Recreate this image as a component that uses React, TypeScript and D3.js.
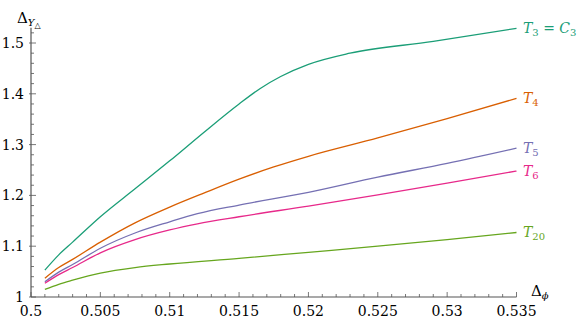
import React from "react";
import * as d3 from "d3";

// x positions of the sampled points (Δφ)
const xsT3 = [0.501, 0.502, 0.503, 0.505, 0.5075, 0.51, 0.5125, 0.515, 0.5165, 0.518, 0.52, 0.523, 0.529, 0.535];
const ysT3 = [1.053, 1.083, 1.108, 1.158, 1.213, 1.268, 1.325, 1.38, 1.41, 1.434, 1.458, 1.48, 1.503, 1.529];

const xsT4 = [0.501, 0.502, 0.503, 0.505, 0.5075, 0.51, 0.5125, 0.515, 0.5175, 0.52, 0.525, 0.53, 0.535];
const ysT4 = [1.037, 1.058, 1.074, 1.108, 1.146, 1.177, 1.205, 1.232, 1.256, 1.277, 1.313, 1.351, 1.391];

const xsT5 = [0.501, 0.502, 0.503, 0.505, 0.5075, 0.51, 0.512, 0.515, 0.52, 0.525, 0.53, 0.535];
const ysT5 = [1.03, 1.049, 1.064, 1.096, 1.126, 1.148, 1.164, 1.181, 1.206, 1.236, 1.263, 1.293];

const xsT6 = [0.501, 0.502, 0.503, 0.505, 0.5075, 0.51, 0.512, 0.515, 0.52, 0.525, 0.53, 0.535];
const ysT6 = [1.027, 1.044, 1.058, 1.087, 1.113, 1.132, 1.144, 1.158, 1.179, 1.201, 1.224, 1.248];

const xsT20 = [0.501, 0.502, 0.503, 0.505, 0.5075, 0.51, 0.515, 0.52, 0.525, 0.53, 0.535];
const ysT20 = [1.015, 1.025, 1.033, 1.047, 1.058, 1.065, 1.076, 1.088, 1.1, 1.113, 1.127];

const xTickLabels = ["0.5", "0.505", "0.51", "0.515", "0.52", "0.525", "0.53", "0.535"];
const yTickLabels = ["1", "1.1", "1.2", "1.3", "1.4", "1.5"];

const series = [
  { name: "T3", sub: "3", extra: true, color: "#1b9e77", xs: xsT3, ys: ysT3 },
  { name: "T4", sub: "4", extra: false, color: "#d95f02", xs: xsT4, ys: ysT4 },
  { name: "T5", sub: "5", extra: false, color: "#7570b3", xs: xsT5, ys: ysT5 },
  { name: "T6", sub: "6", extra: false, color: "#e7298a", xs: xsT6, ys: ysT6 },
  { name: "T20", sub: "20", extra: false, color: "#66a61e", xs: xsT20, ys: ysT20 },
];

const font = "DejaVu Serif";
const axisColor = "#555";

export default function App() {
  const x = d3.scaleLinear().domain([0.5, 0.535]).range([31, 516.5]);
  const y = d3.scaleLinear().domain([1, 1.5]).range([297, 43]);

  const line = d3
    .line<[number, number]>()
    .x((d) => x(d[0]))
    .y((d) => y(d[1]))
    .curve(d3.curveMonotoneX);

  const xMinor = d3.range(0, 36).map((i) => 0.5 + i * 0.001);
  const yMinor = d3.range(0, 27).map((i) => 1 + i * 0.02);

  return (
    <svg
      width={582}
      height={322}
      style={{ position: "absolute", left: 0, top: 0, background: "#fff" }}
    >
      {/* axes */}
      <line x1={x(0.5)} x2={x(0.535)} y1={y(1)} y2={y(1)} stroke={axisColor} strokeWidth={1.2} />
      <line x1={x(0.5)} x2={x(0.5)} y1={y(1)} y2={y(1.53)} stroke={axisColor} strokeWidth={1.2} />

      {xMinor.map((v, i) => (
        <line
          key={"xm" + i}
          x1={x(v)}
          x2={x(v)}
          y1={y(1)}
          y2={y(1) - (i % 5 === 0 ? 5 : 3)}
          stroke={axisColor}
          strokeWidth={0.8}
        />
      ))}
      {yMinor.map((v, i) => (
        <line
          key={"ym" + i}
          x1={x(0.5) - (i % 5 === 0 ? 2 : 0)}
          x2={x(0.5) + (i % 5 === 0 ? 5 : 3)}
          y1={y(v)}
          y2={y(v)}
          stroke={axisColor}
          strokeWidth={0.8}
        />
      ))}

      {xTickLabels.map((t) => (
        <text key={t} x={x(+t)} y={316} textAnchor="middle" fontSize={14} fill="#000" fontFamily={font}>
          {t}
        </text>
      ))}
      {yTickLabels.map((t) => (
        <text key={t} x={24} y={y(+t) + 5} textAnchor="end" fontSize={14} fill="#000" fontFamily={font}>
          {t}
        </text>
      ))}

      {/* axis titles */}
      <text x={17} y={23} fontSize={15} fill="#000" fontFamily={font}>
        Δ
        <tspan fontStyle="italic" fontSize={10} dy={3}>Y</tspan>
        <tspan fontSize={8} dy={2}>△</tspan>
      </text>
      <text x={531} y={296} fontSize={15} fill="#000" fontFamily={font}>
        Δ
        <tspan fontStyle="italic" fontSize={10} dy={3}>ϕ</tspan>
      </text>

      {/* curves */}
      {series.map((s) => (
        <path
          key={s.name}
          d={line(s.xs.map((v, i) => [v, s.ys[i]] as [number, number])) || ""}
          fill="none"
          stroke={s.color}
          strokeWidth={1.3}
        />
      ))}

      {/* labels */}
      {series.map((s) => {
        const ly = y(s.ys[s.ys.length - 1]) + 5;
        return (
          <text key={"l" + s.name} x={523} y={ly} fontSize={14} fill={s.color} fontFamily={font}>
            <tspan fontStyle="italic">T</tspan>
            <tspan fontSize={10} dy={3}>{s.sub}</tspan>
            {s.extra ? (
              <>
                <tspan dy={-3}> = </tspan>
                <tspan fontStyle="italic">C</tspan>
                <tspan fontSize={10} dy={3}>3</tspan>
              </>
            ) : null}
          </text>
        );
      })}
    </svg>
  );
}
